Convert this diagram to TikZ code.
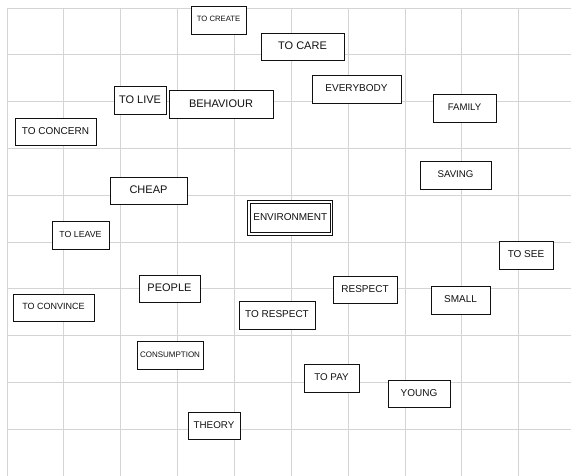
\documentclass[tikz,border=0pt]{standalone}
\usepackage{fontspec}
\setmainfont{Liberation Sans}
\usepackage{xcolor}
\usetikzlibrary{positioning}
\definecolor{gridcolor}{HTML}{D4D4D4}
\definecolor{inkcolor}{HTML}{111111}

\begin{document}
\begin{tikzpicture}[x=1pt, y=-1pt,
    gridline/.style={gridcolor, line width=0.8pt},
    word/.style={rectangle, draw=inkcolor, fill=white, line width=1pt, text=inkcolor, inner sep=0pt, minimum height=27.5pt, text depth=2.5pt, font=\fontsize{#1}{#1}\selectfont},
    word/.default=10,
    inner/.style={draw=inkcolor, line width=0.8pt}
]
\useasboundingbox (0,0) rectangle (571,476);

% Grid in the background
\foreach \i in {0,...,9} {
  \draw[gridline] (7+56.85*\i,8) -- (7+56.85*\i,476);
  \draw[gridline] (7,8+46.8*\i) -- (571,8+46.8*\i);
}

% Central word, double frame
\node[word, minimum width=85pt, minimum height=34.4pt] (environment) at (290.3,218) {ENVIRONMENT};
\draw[inner] ([xshift=3pt,yshift=-3pt]environment.north west) rectangle ([xshift=-3pt,yshift=3pt]environment.south east);

% Words around it - top
\node[word=7.7, minimum width=55pt] (create) at (218.5,20.5) {TO CREATE};
\node[word=11, minimum width=83pt] (care) at (302.5,47) {TO CARE};
\node[word=11, minimum width=52pt] (live) at (140,100.5) {TO LIVE};
\node[word=11, minimum width=104pt] (behaviour) at (221,104.5) {BEHAVIOUR};
\node[word, minimum width=81pt] (concern) at (55.5,132) {TO CONCERN};
\node[word, minimum width=89pt] (everybody) at (356.5,89.5) {EVERYBODY};
\node[word=9.6, minimum width=63pt] (family) at (464.5,108.5) {FAMILY};

% Words around it - middle
\node[word=11, minimum width=77pt] (cheap) at (148.5,191) {CHEAP};
\node[word=8.8, minimum width=57pt] (leave) at (80.5,235.5) {TO LEAVE};
\node[word=9.7, minimum width=71pt] (saving) at (455.5,175.5) {SAVING};
\node[word, minimum width=54pt] (see) at (526,255.5) {TO SEE};
\node[word=11, minimum width=61pt] (people) at (169.5,289) {PEOPLE};
\node[word=9, minimum width=81pt] (convince) at (53.5,308) {TO CONVINCE};
\node[word, minimum width=76pt] (torespect) at (277,315.5) {TO RESPECT};
\node[word, minimum width=64pt] (respect) at (365,290) {RESPECT};
\node[word, minimum width=59pt] (small) at (460.5,300.5) {SMALL};

% Words around it - bottom
\node[word=8, minimum width=66pt] (consumption) at (170,355.5) {CONSUMPTION};
\node[word=9.8, minimum width=55pt] (pay) at (331.5,378.5) {TO PAY};
\node[word, minimum width=62pt] (young) at (419,394) {YOUNG};
\node[word=9.8, minimum width=52pt] (theory) at (214,426) {THEORY};
\end{tikzpicture}
\end{document}
